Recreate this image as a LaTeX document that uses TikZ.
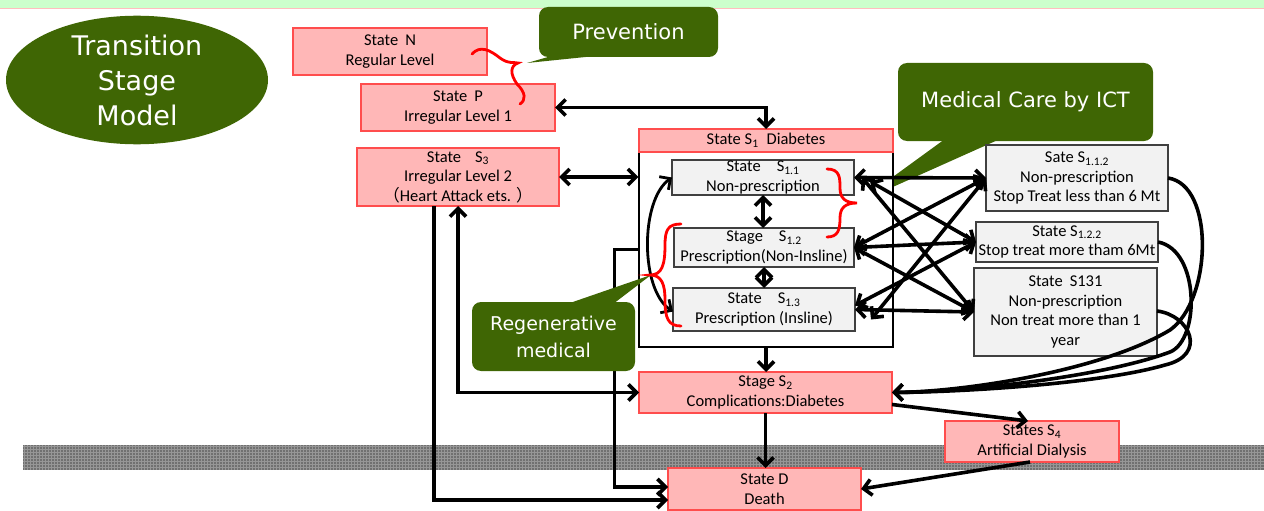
\documentclass[tikz,border=0pt]{standalone}
\usepackage{fontspec}
\setmainfont{Carlito}
\newfontfamily\callfont{DejaVu Sans}
\newfontfamily\cjkfont{Noto Sans CJK JP}
\usetikzlibrary{arrows.meta,shapes.geometric}

\definecolor{leaf}{RGB}{63,102,4}
\definecolor{pinkfill}{RGB}{255,183,183}
\definecolor{pinkline}{RGB}{255,77,77}
\definecolor{greyfill}{RGB}{242,242,242}
\definecolor{greyline}{RGB}{64,64,64}
\definecolor{bandgrey}{RGB}{112,112,112}
\definecolor{bandlight}{RGB}{150,150,150}
\definecolor{topgreen}{RGB}{204,255,204}
\definecolor{topline}{RGB}{255,190,190}

\tikzset{
  boxtext/.style={font=\fontsize{16.5}{19.5}\selectfont, align=center, inner sep=0pt, outer sep=0pt},
  pinkbox/.style={boxtext, draw=pinkline, fill=pinkfill, line width=1.3pt},
  greybox/.style={boxtext, draw=greyline, fill=greyfill, line width=1.3pt},
  callout/.style={fill=leaf, text=white, rounded corners=9pt, align=center, inner sep=0pt, callfont},
  callfont/.style={font=\callfont\fontsize{21}{27}\selectfont},
  link/.style={line width=3.6pt, line join=miter},
  brace/.style={red, line width=2.8pt, line cap=round},
  >={Straight Barb[length=8pt,width=16pt]}
}

\begin{document}
\begin{tikzpicture}[x=1pt,y=-1pt]
\useasboundingbox (0,0) rectangle (1264,511);

% header strip and textured grey band
\fill[topgreen] (0,0) rectangle (1264,8);
\draw[topline, line width=1.2pt] (0,8.6) -- (1264,8.6);
\fill[bandgrey] (23,445) rectangle (1264,470);
\foreach \bx in {24,27,...,1262} {
  \draw[bandlight, line width=0.5pt] (\bx,445) -- (\bx,470);
}
\foreach \by in {446.5,449.5,...,469} {
  \draw[bandlight, line width=0.5pt] (23,\by) -- (1264,\by);
}

% title ellipse
\node[ellipse, fill=leaf, minimum width=262pt, minimum height=106pt, inner sep=0pt,
      text=white, align=center, font=\callfont\fontsize{27}{35}\selectfont]
      (model) at (137,80) {Transition\\Stage\\Model};

% ICT callout (behind the transitions)
\node[callout, minimum width=255pt, minimum height=78pt] (ict) at (1025.5,102) {Medical Care by ICT};
\coordinate (icttip) at (857,203);
\fill[leaf] (945,139) -- (icttip) -- (1000,139) -- cycle;

% states
\node[pinkbox, minimum width=194pt, minimum height=47pt] (N) at (390,51.5) {State\hspace{7pt}N\\Regular Level};
\node[pinkbox, minimum width=194pt, minimum height=47pt] (P) at (458,107.5) {State\hspace{7pt}P\\Irregular Level 1};
\node[pinkbox, minimum width=202pt, minimum height=58pt] (S3) at (458,177)
  {State\hspace{14pt}S\textsubscript{3}\\Irregular Level 2\\{\cjkfont （}Heart Attack ets. {\cjkfont ）}};

\node[draw, line width=1.2pt, fill=white, minimum width=254pt, minimum height=195pt, inner sep=0pt] (S1body) at (766,249.5) {};
\node[pinkbox, minimum width=254pt, minimum height=23pt] (S1head) at (766,140.5) {State S\textsubscript{1}\hspace{8pt}Diabetes};

\node[greybox, minimum width=182pt, minimum height=35pt] (S11) at (763,177.5) {State\hspace{16pt}S\textsubscript{1.1}\\Non-prescription};
\node[greybox, minimum width=180pt, minimum height=39pt] (S12) at (764,247.5) {Stage\hspace{16pt}S\textsubscript{1.2}\\Prescription(Non-Insline)};
\node[greybox, minimum width=182pt, minimum height=43pt] (S13) at (764,309.5) {State\hspace{16pt}S\textsubscript{1.3}\\Prescription (Insline)};

\node[greybox, minimum width=182pt, minimum height=66pt] (S112) at (1077,178) {Sate S\textsubscript{1.1.2}\\Non-prescription\\Stop Treat less than 6 Mt};
\node[greybox, minimum width=182pt, minimum height=40pt] (S122) at (1067,242) {State S\textsubscript{1.2.2}\\Stop treat more tham 6Mt};
\node[greybox, minimum width=183pt, minimum height=88pt] (S131) at (1065.5,312) {State\hspace{7pt}S131\\Non-prescription\\Non treat more than 1\\year};

\node[pinkbox, minimum width=253pt, minimum height=41pt] (S2) at (765.5,392.5) {Stage S\textsubscript{2}\\Complications:Diabetes};
\node[pinkbox, minimum width=174pt, minimum height=41pt] (S4) at (1032,441.5) {States S\textsubscript{4}\\Artificial Dialysis};
\node[pinkbox, minimum width=193pt, minimum height=42pt] (D) at (764.5,489) {State D\\Death};

% transitions
\draw[link, <->] (P.east) -| (S1head.north);
\draw[link, <->] (S3.east) -- (S3.east -| S1body.west);
\draw[link, <->] (S3.south) |- (S2.west);
\draw[link, ->] ([xshift=-24pt]S3.south) |- ([yshift=-11pt]D.west);
\draw[link, ->] (S1body.west) -- ++(-24,0) |- ([yshift=2pt]D.west);
\draw[link, ->] (S1body.south) -- (S1body.south |- S2.north);
\draw[link, ->] (S2.south) -- (S2.south |- D.north);
\draw[link, ->] ([yshift=-12pt]S2.east) -- ([xshift=-4pt]S4.north);
\draw[link, ->] ([xshift=-2pt]S4.south) -- (D.east);

\draw[link, <->] (S11.south) -- (S11.south |- S12.north);
\draw[link, <->] (S12.south) -- (S12.south |- S13.north);
\draw[line width=2.8pt, <->] ([yshift=-2pt]S13.west) .. controls (640,290) and (640,200) .. (S11.west);

\draw[link, <->] (S11.east) -- (S112.west);
\draw[link, <->] ([xshift=16pt,yshift=-4pt]S11.east) -- (S122.west);
\draw[link, <->] ([xshift=8pt]S11.east) -- (S131.west);
\draw[link, <->] (S12.east) -- (S112.west);
\draw[link, <->] (S12.east) -- (S122.west);
\draw[link, <->] (S12.east) -- (S131.west);
\draw[link, <->] ([xshift=16pt,yshift=-10pt]S13.east) -- (S112.west);
\draw[link, <->] ([yshift=4pt]S13.east) -- (S122.west);
\draw[link, <->] (S13.east) -- (S131.west);

\draw[link, ->] (S112.east) .. controls (1215,185) and (1212,300) .. (1170,330)
                .. controls (1100,372) and (960,392) .. (S2.east);
\draw[link, ->] (S122.east) .. controls (1200,250) and (1200,340) .. (1170,352)
                .. controls (1100,378) and (960,392) .. (S2.east);
\draw[link, ->] ([yshift=1pt]S131.east) .. controls (1190,315) and (1208,355) .. (1165,365)
                .. controls (1100,384) and (960,392) .. (S2.east);

% callouts in front
\node[callout, minimum width=179pt, minimum height=50pt] (prev) at (628.5,32) {Prevention};
\coordinate (prevtip) at (527,63);
\fill[leaf] (555,55) -- (prevtip) -- (605,55) -- cycle;

\node[callout, minimum width=163pt, minimum height=69pt, font=\callfont\fontsize{19}{27}\selectfont] (regen) at (553.5,336.5) {Regenerative\\medical};
\coordinate (regentip) at (651,275);
\fill[leaf] (567,304) -- (regentip) -- (613,304) -- cycle;

% braces
\draw[brace] (472,54) .. controls (480,45) and (490,50) .. (500,58)
             .. controls (508,64) and (514,62) .. (prevtip -| 518,0)
             .. controls (510,66) and (510,74) .. (517,84)
             .. controls (526,93) and (526,100) .. (520,104);
\draw[brace] (827,169) .. controls (840,169) and (840,178) .. (840,188)
             .. controls (840,198) and (845,203) .. (icttip)
             .. controls (845,203) and (840,208) .. (840,218)
             .. controls (840,230) and (838,237) .. (827,237);
\draw[brace] (681,224) .. controls (668,224) and (665,230) .. (665,245)
             .. controls (665,265) and (662,275) .. (regentip -| 650,0)
             .. controls (662,275) and (665,285) .. (665,300)
             .. controls (665,318) and (668,326) .. (681,326);
\end{tikzpicture}
\end{document}
